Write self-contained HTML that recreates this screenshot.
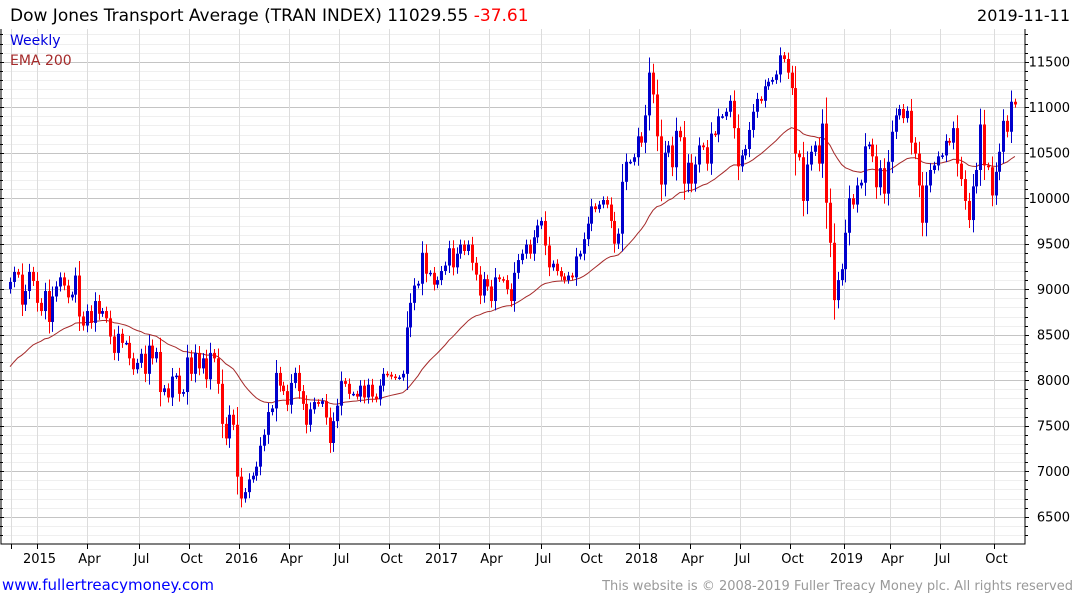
<!DOCTYPE html>
<html><head><meta charset="utf-8"><style>
html,body{margin:0;padding:0;background:#fff;}
svg{display:block;font-family:"DejaVu Sans","Liberation Sans",sans-serif;}
</style></head><body>
<svg id="chart" width="1075" height="600" viewBox="0 0 1075 600" xmlns="http://www.w3.org/2000/svg">
<rect x="0" y="0" width="1075" height="600" fill="#fff"/>
<text x="10" y="21" font-size="17" fill="#000">Dow Jones Transport Average (TRAN INDEX) 11029.55 <tspan fill="#ff0000">-37.61</tspan></text>
<text x="1070" y="21" font-size="16" fill="#000" text-anchor="end">2019-11-11</text>
<g id="grid"></g>
<g id="ema"></g>
<g id="bars"></g>
<g id="axes"></g>
<text x="10" y="45" font-size="14" fill="#0000dd">Weekly</text>
<text x="10" y="65" font-size="14" fill="#a52a2a">EMA 200</text>
<text x="2" y="590" font-size="15" fill="#0000ff">www.fullertreacymoney.com</text>
<text x="1073" y="590" font-size="13" fill="#999" text-anchor="end">This website is © 2008-2019 Fuller Treacy Money plc. All rights reserved</text>
</svg>
<script>
const closes = [9080,9190,9160,8830,8980,9190,9090,8850,8760,8980,8640,8920,9030,9130,9040,8910,8940,9150,8700,8600,8760,8630,8870,8730,8760,8680,8480,8300,8510,8410,8410,8240,8120,8190,8290,8070,8380,8240,8310,7870,7910,7810,8040,
8050,7850,7870,8250,8070,8300,8130,8240,8010,8300,8240,7960,7520,7360,7620,7510,6940,6700,6770,6910,6950,7050,7280,7400,7650,7690,8080,7940,7880,7730,7970,8080,7880,7740,7510,7680,7760,7740,7770,7590,7310,7550,7720,7990,
7960,7850,7850,7820,7940,7810,7950,7820,7790,7940,8070,8060,8040,8030,8030,8070,8580,8850,9040,9060,9400,9170,9180,9050,9100,9200,9260,9450,9240,9390,9490,9420,9490,9290,9160,8930,9110,9030,8870,9130,9110,9100,9000,8870,
9180,9320,9390,9490,9390,9570,9700,9750,9480,9240,9280,9200,9140,9100,9150,9130,9360,9390,9550,9720,9910,9880,9930,9980,9930,9750,9500,9610,10180,10400,10400,10450,10680,10610,10910,11380,11140,10680,10150,10500,10580,10340,10740,10670,
10160,10390,10160,10370,10580,10560,10380,10710,10700,10900,10900,10950,11070,10770,10350,10470,10540,10750,10950,11090,11070,11230,11280,11300,11360,11570,11530,11380,11210,10490,10450,9970,10370,10510,10580,10380,10820,9950,9510,8880,9100,9220,9620,10000,9930,10140,10170,10570,10590,10460,10120,10330,10050,10400,10730,10910,10980,10880,10960,10610,10490,10140,9730,10140,10310,10360,10460,10470,10630,10610,10770,10380,10210,9970,9760,10130,10310,10810,10360,10340,10030,10290,10510,10850,10730,11060,11030];
const firstOpen = [9000];
const emaSeed = [8100];
const emaPeriod = [40];
const yTicks = [6500,7000,7500,8000,8500,9000,9500,10000,10500,11000,11500];
const xLabels = ["","2015","Apr","Jul","Oct","2016","Apr","Jul","Oct","2017","Apr","Jul","Oct","2018","Apr","Jul","Oct","2019","Apr","Jul","Oct"];
const xLabelWeeks = [0.3,7,20,33.5,46.5,59.5,72.5,85.5,98.5,111.5,124.5,138,150.5,163.5,176.5,189.5,202.5,216.5,228.5,241.5,255.5];

const NS="http://www.w3.org/2000/svg";
const L=4,R=1025,T=29,B=544;
function y(v){return 61.7+(11500-v)*0.091;}
function x(i){return 10+3.85*i;}
function mk(tag,attrs,parent){const e=document.createElementNS(NS,tag);for(const k in attrs)e.setAttribute(k,attrs[k]);parent.appendChild(e);return e;}
const grid=document.getElementById('grid'),bars=document.getElementById('bars'),axes=document.getElementById('axes'),emaG=document.getElementById('ema');

for(let v=6200;v<=11800;v+=100){const yy=Math.round(y(v))+0.5;if(yy<T||yy>B)continue;
 const major=v%500===0;
 const ln=mk('line',{x1:L,x2:R,y1:yy,y2:yy,stroke:major?'#c4c4c4':'#efefef','stroke-width':1},grid);
 
 
 const tk=mk('line',{x1:0,x2:major?4:3,y1:yy,y2:yy,stroke:'#000'},axes);
 
 
 const tk2=mk('line',{x1:R,x2:R+(major?4:3),y1:yy,y2:yy,stroke:'#000'},axes);
 
 
}
xLabelWeeks.forEach((w,k)=>{const xx=Math.round(x(w))+0.5;
 const g=mk('line',{x1:xx,x2:xx,y1:T,y2:B,stroke:'#dcdcdc'},grid);
 
 
 const t=mk('line',{x1:xx,x2:xx,y1:B,y2:B+5,stroke:'#000'},axes);
 
 
 if(xLabels[k]){const tx=mk('text',{x:xx+2,y:B+19,'font-size':13,'text-anchor':'middle',fill:'#000'},axes);tx.textContent=xLabels[k];
 
 }
});
yTicks.forEach(v=>{const t=mk('text',{x:1070,y:y(v)+5,'font-size':13,'text-anchor':'end',fill:'#000'},axes);t.textContent=v;
 
 });
const frame=mk('path',{d:`M1,${T} V${B} H${R} V${T}`,fill:'none',stroke:'#000','stroke-width':1},axes);



let prev=firstOpen[0];
closes.forEach((c,i)=>{const o=prev;prev=c;
 const up=c>=o,col=up?'#0000cc':'#ff0000';
 const body=Math.abs(c-o),wick=25+0.3*body;
 const hi=Math.max(o,c)+wick,lo=Math.min(o,c)-wick;
 const xx=Math.round(x(i));
 const w=mk('line',{x1:xx+0.5,x2:xx+0.5,y1:y(hi),y2:y(lo),stroke:col,'stroke-width':1},bars);
 
 
 const top=y(Math.max(o,c)),h=Math.max(1.5,y(Math.min(o,c))-top);
 const r=mk('rect',{x:xx-1,y:top,width:3,height:h,fill:col},bars);
 
 
});
let e=emaSeed[0];const a=2/(emaPeriod[0]+1);let d='';
closes.forEach((c,i)=>{e=e+a*(c-e);d+=(i?'L':'M')+x(i).toFixed(1)+','+y(e).toFixed(1);});
const p=mk('path',{d:d,fill:'none',stroke:'#a52a2a','stroke-width':1},emaG);


</script>
</body></html>
